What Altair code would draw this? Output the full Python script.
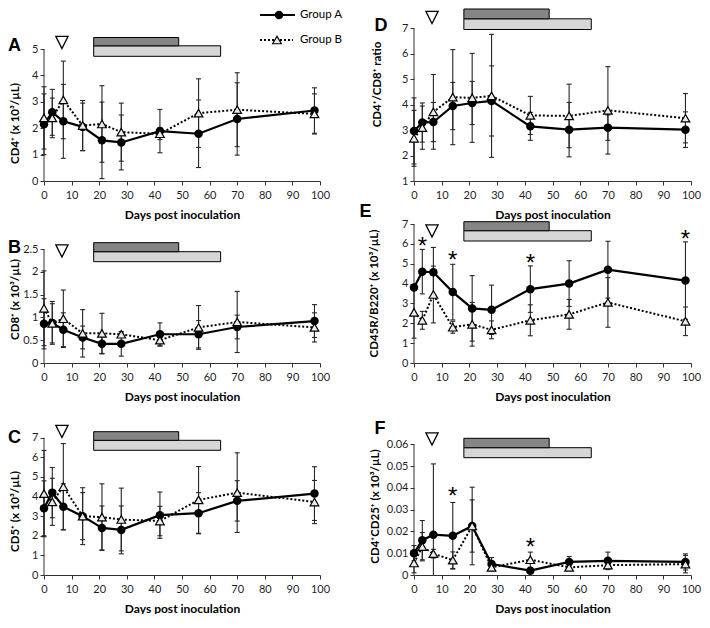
import altair as alt
import pandas as pd

# ---------------- data ----------------
days = [0, 3, 7, 14, 21, 28, 42, 56, 70, 98]

cd4_a = [2.15, 2.6, 2.26, 2.05, 1.54, 1.46, 1.89, 1.79, 2.35, 2.67]
cd4_a_sd = [1.15, 0.87, 1.4, 0.9, 1.45, 1.04, 0.82, 1.28, 1.37, 0.86]
cd4_b = [2.39, 2.39, 3.07, 2.1, 2.16, 1.85, 1.79, 2.57, 2.7, 2.54]
cd4_b_sd = [1.18, 0.75, 1.47, 0.95, 1.45, 1.1, 0.22, 1.3, 1.4, 0.76]

cd8_a = [0.86, 0.88, 0.73, 0.56, 0.42, 0.42, 0.63, 0.63, 0.79, 0.92]
cd8_a_sd = [0.55, 0.47, 0.37, 0.25, 0.22, 0.27, 0.25, 0.3, 0.26, 0.36]
cd8_b = [1.2, 0.87, 0.97, 0.65, 0.65, 0.63, 0.5, 0.78, 0.9, 0.78]
cd8_b_sd = [0.82, 0.43, 0.63, 0.52, 0.44, 0.05, 0.13, 0.48, 0.67, 0.32]

cd5_a = [3.4, 4.2, 3.48, 3.0, 2.4, 2.3, 3.05, 3.15, 3.78, 4.15]
cd5_a_sd = [1.4, 1.28, 1.17, 1.45, 1.12, 1.22, 1.18, 1.05, 1.03, 1.37]
cd5_b = [4.15, 3.73, 4.5, 3.0, 2.95, 2.83, 2.75, 3.83, 4.2, 3.72]
cd5_b_sd = [2.2, 1.2, 2.2, 1.2, 1.7, 1.6, 0.75, 1.7, 2.03, 1.1]

ratio_a = [2.97, 3.3, 3.32, 3.95, 4.07, 4.15, 3.15, 3.02, 3.1, 3.02]
ratio_a_sd = [1.3, 0.77, 0.77, 0.93, 0.85, 1.38, 0.55, 1.07, 0.5, 0.7]
ratio_b = [2.68, 3.1, 3.72, 4.3, 4.27, 4.35, 3.58, 3.56, 3.78, 3.47]
ratio_b_sd = [1.1, 0.85, 1.47, 1.87, 1.75, 2.42, 0.75, 1.25, 1.72, 0.97]

b220_a = [3.8, 4.6, 4.57, 3.57, 2.75, 2.68, 3.72, 4.0, 4.7, 4.15]
b220_a_sd = [0.1, 1.12, 1.25, 1.4, 1.65, 1.24, 1.17, 1.15, 1.43, 1.95]
b220_b = [2.55, 2.15, 3.45, 1.8, 1.95, 1.67, 2.15, 2.45, 3.05, 2.1]
b220_b_sd = [1.3, 0.45, 1.43, 0.3, 1.1, 0.45, 0.78, 0.75, 1.25, 0.72]

treg_a = [0.010, 0.016, 0.0185, 0.018, 0.0225, 0.005, 0.002, 0.006, 0.0065, 0.006]
treg_a_sd = [0.0035, 0.009, 0.0325, 0.0153, 0.0178, 0.003, 0.001, 0.0025, 0.004, 0.0037]
treg_b = [0.0055, 0.013, 0.0098, 0.0068, 0.0225, 0.0035, 0.007, 0.0035, 0.0045, 0.005]
treg_b_sd = [0.0045, 0.0065, 0.002, 0.0038, 0.012, 0.0015, 0.0035, 0.001, 0.001, 0.004]

inoc_day = 6.5
gray_bar_days = [18, 48.8]
dot_bar_days = [18, 64]
b220_star_days = [3, 14, 42, 98]
b220_star_vals = [6.26, 5.52, 5.37, 6.62]
treg_star_days = [14, 42]
treg_star_vals = [0.0395, 0.0162]
x_ticks = [0, 10, 20, 30, 40, 50, 60, 70, 80, 90, 100]
x_title = "Days post inoculation"
legend_labels = ["Group A", "Group B"]

# ---------------- layout (page pixels) ----------------
ROWS = [(8, 180), (220, 362), (402, 574)]
COLS = [(44, 276), (414, 277)]
AX = "#333333"
LBL = "#1f1f1f"
FONT = "Lato"

panels = [
    dict(letter="A", row=0, col=0, ticks=[0, 1, 2, 3, 4, 5], lo_px=180, hi_px=48,
         title="CD4⁺ (x 10³/µL)", a=cd4_a, a_sd=cd4_a_sd, b=cd4_b, b_sd=cd4_b_sd,
         bars_px=(36.5, 44.8, 55.3), tri_px=41.5, letter_px=(8, 45), title_px=(15.5, 122),
         legend=True, stars=None),
    dict(letter="D", row=0, col=1, ticks=[1, 2, 3, 4, 5, 6, 7], lo_px=180, hi_px=27.5,
         title="CD4⁺/CD8⁺ ratio", a=ratio_a, a_sd=ratio_a_sd, b=ratio_b, b_sd=ratio_b_sd,
         bars_px=(8, 17.8, 28.5), tri_px=16.5, letter_px=(374.5, 25), title_px=(377.5, 83),
         legend=False, stars=None),
    dict(letter="B", row=1, col=0, ticks=[0, 0.5, 1, 1.5, 2, 2.5], lo_px=362, hi_px=248,
         title="CD8⁺ (x 10³/µL)", a=cd8_a, a_sd=cd8_a_sd, b=cd8_b, b_sd=cd8_b_sd,
         bars_px=(241.7, 250.7, 260.7), tri_px=250, letter_px=(8, 246.5), title_px=(15.5, 298),
         legend=False, stars=None),
    dict(letter="E", row=1, col=1, ticks=[0, 1, 2, 3, 4, 5, 6, 7], lo_px=362, hi_px=223,
         title="CD45R/B220⁺ (x 10³/µL)", a=b220_a, a_sd=b220_a_sd, b=b220_b, b_sd=b220_b_sd,
         bars_px=(220.7, 229.7, 240), tri_px=230, letter_px=(359.5, 210.5), title_px=(374.5, 292),
         legend=False, stars=(b220_star_days, b220_star_vals)),
    dict(letter="C", row=2, col=0, ticks=[0, 1, 2, 3, 4, 5, 6, 7], lo_px=574, hi_px=436.7,
         title="CD5⁺ (x 10³/µL)", a=cd5_a, a_sd=cd5_a_sd, b=cd5_b, b_sd=cd5_b_sd,
         bars_px=(430.7, 439.3, 449.3), tri_px=430.5, letter_px=(8, 437), title_px=(15.5, 510),
         legend=False, stars=None),
    dict(letter="F", row=2, col=1, ticks=[0, 0.01, 0.02, 0.03, 0.04, 0.05, 0.06], lo_px=574, hi_px=443.3,
         title="CD4⁺CD25⁺ (x 10³/µL)", a=treg_a, a_sd=treg_a_sd, b=treg_b, b_sd=treg_b_sd,
         bars_px=(437.3, 446.7, 456.7), tri_px=438, letter_px=(374.5, 427.5), title_px=(375.5, 505),
         legend=False, stars=(treg_star_days, treg_star_vals)),
]


def panel(p):
    top, bottom = ROWS[p["row"]]
    left, width = COLS[p["col"]]
    height = bottom - top
    ticks = p["ticks"]
    lo, hi = ticks[0], ticks[-1]
    k = (p["lo_px"] - p["hi_px"]) / (hi - lo)

    def yv(ypx):
        return lo + (p["lo_px"] - ypx) / k

    def xv(xpx):
        return (xpx - left) / width * 100

    xs = alt.Scale(domain=[0, 100], nice=False, zero=False)
    ys = alt.Scale(domain=[yv(bottom), yv(top)], nice=False, zero=False)
    xaxis = alt.Axis(values=x_ticks, format="d", grid=False, domainColor=AX, domainWidth=1,
                     tickColor=AX, tickSize=4, labelFont=FONT, labelFontSize=11, labelColor=LBL,
                     labelPadding=4, labelFlush=False, labelOverlap=False,
                     title=x_title, titleFont=FONT, titleFontSize=12,
                     titleFontWeight="bold", titleColor="black", titleX=width / 2, titleY=33,
                     titleAlign="center", titleBaseline="middle")
    yaxis = alt.Axis(values=ticks, format="~g", grid=False, domain=False, tickColor=AX,
                     tickSize=4, labelFont=FONT, labelFontSize=11, labelColor=LBL, labelPadding=2,
                     labelFlush=False, labelOverlap=False,
                     title=p["title"], titleFont=FONT, titleFontSize=11.5, titleFontWeight="bold",
                     titleColor="black", titleAngle=270, titleAlign="center", titleBaseline="middle",
                     titleX=p["title_px"][0] - left, titleY=p["title_px"][1] - top)

    def X(f):
        return alt.X(f, type="quantitative", scale=xs, axis=xaxis)

    def Y(f):
        return alt.Y(f, type="quantitative", scale=ys, axis=yaxis)

    rows = []
    for g, vals, sds in (("A", p["a"], p["a_sd"]), ("B", p["b"], p["b_sd"])):
        for d, v, s in zip(days, vals, sds):
            rows.append(dict(day=d, v=v, low=max(v - s, lo), high=v + s, grp=g))
    df = pd.DataFrame(rows)
    caps = pd.concat([
        df[["day"]].assign(cap=df["high"]),
        df[["day"]].assign(cap=df["low"])[df["low"] > lo],
    ])
    dfa = df[df.grp == "A"]
    dfb = df[df.grp == "B"]

    layers = []
    layers.append(alt.Chart(pd.DataFrame({"x": [0], "y": [lo], "y2": [hi]})).mark_rule(
        color=AX, strokeWidth=1).encode(x=X("x"), y=Y("y"), y2="y2"))
    layers.append(alt.Chart(df).mark_rule(color="#262626", strokeWidth=1.1).encode(
        x=X("day"), y=Y("low"), y2="high"))
    layers.append(alt.Chart(caps).mark_tick(orient="horizontal", size=5, thickness=1.1,
                                             color="#262626", opacity=1).encode(x=X("day"), y=Y("cap")))
    layers.append(alt.Chart(dfb).mark_line(color="black", strokeWidth=2, strokeDash=[2, 2]).encode(
        x=X("day"), y=Y("v")))
    layers.append(alt.Chart(dfa).mark_line(color="black", strokeWidth=2.2).encode(
        x=X("day"), y=Y("v")))
    layers.append(alt.Chart(dfa).mark_point(shape="circle", filled=True, size=72, color="black",
                                            opacity=1).encode(x=X("day"), y=Y("v")))
    layers.append(alt.Chart(dfb).mark_point(shape="triangle-up", filled=True, size=75, fill="#ebebeb",
                                            stroke="black", strokeWidth=1.2, opacity=1).encode(
        x=X("day"), y=Y("v")))
    # treatment bars
    bp = p["bars_px"]
    layers.append(alt.Chart(pd.DataFrame({"x": [dot_bar_days[0]], "x2": [dot_bar_days[1]],
                                          "y": [yv(bp[2])], "y2": [yv(bp[1])]})).mark_rect(
        fill="#d6d6d6", stroke="black", strokeWidth=1).encode(x=X("x"), x2="x2", y=Y("y"), y2="y2"))
    layers.append(alt.Chart(pd.DataFrame({"x": [gray_bar_days[0]], "x2": [gray_bar_days[1]],
                                          "y": [yv(bp[1])], "y2": [yv(bp[0])]})).mark_rect(
        fill="#858585", stroke="black", strokeWidth=1).encode(x=X("x"), x2="x2", y=Y("y"), y2="y2"))
    # inoculation marker
    layers.append(alt.Chart(pd.DataFrame({"x": [inoc_day], "y": [yv(p["tri_px"])]})).mark_point(
        shape="M-1,-1L1,-1L0,1Z", size=150, filled=False, color="black", strokeWidth=1.3,
        opacity=1).encode(x=X("x"), y=Y("y")))
    # panel letter
    layers.append(alt.Chart(pd.DataFrame({"x": [xv(p["letter_px"][0])], "y": [yv(p["letter_px"][1])],
                                          "t": [p["letter"]]})).mark_text(
        align="left", baseline="middle", fontSize=18, fontWeight="bold", font="Liberation Sans",
        color="black").encode(x=X("x"), y=Y("y"), text="t:N"))
    if p["stars"]:
        sd_, sv_ = p["stars"]
        layers.append(alt.Chart(pd.DataFrame({"x": sd_, "y": sv_, "t": ["*"] * len(sd_)})).mark_text(
            align="center", baseline="alphabetic", dy=15, fontSize=24, font="Liberation Sans",
            color="black").encode(x=X("x"), y=Y("y"), text="t:N"))
    if p["legend"]:
        ly = [yv(14), yv(39)]
        layers.append(alt.Chart(pd.DataFrame({"x": [xv(260)], "x2": [xv(295)], "y": [ly[0]]})).mark_rule(
            color="black", strokeWidth=2.2).encode(x=X("x"), x2="x2", y=Y("y")))
        layers.append(alt.Chart(pd.DataFrame({"x": [xv(260)], "x2": [xv(293)], "y": [ly[1]]})).mark_rule(
            color="black", strokeWidth=2, strokeDash=[2, 2]).encode(x=X("x"), x2="x2", y=Y("y")))
        layers.append(alt.Chart(pd.DataFrame({"x": [xv(279)], "y": [ly[0]]})).mark_point(
            shape="circle", filled=True, size=72, color="black", opacity=1).encode(x=X("x"), y=Y("y")))
        layers.append(alt.Chart(pd.DataFrame({"x": [xv(277)], "y": [ly[1]]})).mark_point(
            shape="triangle-up", filled=True, size=75, fill="#ebebeb", stroke="black", strokeWidth=1.2,
            opacity=1).encode(x=X("x"), y=Y("y")))
        layers.append(alt.Chart(pd.DataFrame({"x": [xv(300)] * 2, "y": ly, "t": legend_labels})).mark_text(
            align="left", baseline="middle", fontSize=11.5, font=FONT, color="black").encode(
            x=X("x"), y=Y("y"), text="t:N"))

    return alt.layer(*layers).properties(width=width, height=height)


charts = [panel(p) for p in panels]
chart = alt.concat(*charts, columns=2, spacing={"row": 40, "column": 94},
                   bounds="flush", align="each").properties(padding=0).configure_view(strokeWidth=0)

chart.save("out.html", embed_options={"renderer": "svg", "actions": False})
